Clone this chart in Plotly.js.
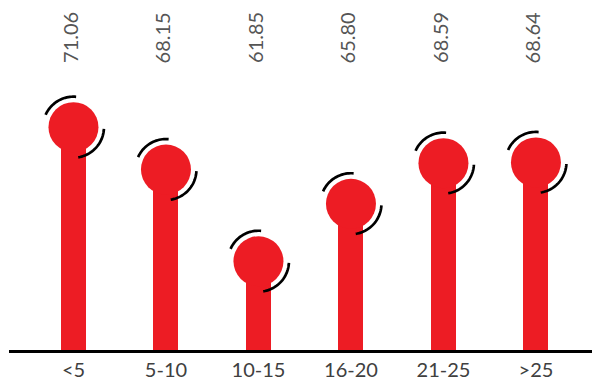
<!DOCTYPE html>
<html>
<head>
<meta charset="utf-8">
<script src="https://cdn.plot.ly/plotly-3.0.1.min.js"></script>
<style>
  html, body { margin: 0; padding: 0; background: #ffffff; }
  #chart { width: 592px; height: 386px; }
</style>
</head>
<body>
<div id="chart"></div>
<script>
// Age bands and their scores
const categories = ['<5', '5-10', '10-15', '16-20', '21-25', '>25'];
const values = [71.06, 68.15, 61.85, 65.80, 68.59, 68.64];
const valueLabels = ['71.06', '68.15', '61.85', '65.80', '68.59', '68.64'];

const RED = '#ED1C24';
const xIdx = categories.map((_, i) => i);

// Stems of the lollipops (bars clipped at the axis floor)
const stems = {
  type: 'bar',
  x: xIdx,
  y: values,
  width: 0.27,
  marker: { color: RED, line: { width: 0 } },
  hoverinfo: 'skip'
};

// Round heads on top of each stem
const heads = {
  type: 'scatter',
  mode: 'markers',
  x: xIdx,
  y: values,
  marker: { size: 50, color: RED, line: { width: 0 } },
  hoverinfo: 'skip'
};

// Build an arc as a polyline in pixel offsets (y up), degrees
function arcPath(r, a0, a1) {
  const steps = 24;
  let d = '';
  for (let k = 0; k <= steps; k++) {
    const a = (a0 + (a1 - a0) * k / steps) * Math.PI / 180;
    const px = (r * Math.cos(a)).toFixed(2);
    const py = (r * Math.sin(a)).toFixed(2);
    d += (k === 0 ? 'M' : 'L') + px + ',' + py + ' ';
  }
  return d.trim();
}

const shapes = [];
xIdx.forEach((xi, i) => {
  [[85, 156], [-81, -3]].forEach(([a0, a1]) => {
    shapes.push({
      type: 'path',
      xref: 'x', yref: 'y',
      xsizemode: 'pixel', ysizemode: 'pixel',
      xanchor: xi, yanchor: values[i],
      path: arcPath(30.5, a0, a1),
      line: { color: '#000000', width: 2.7 },
      layer: 'above'
    });
  });
});

// Vertical value labels along the top
const annotations = xIdx.map((xi, i) => ({
  x: xi,
  xref: 'x',
  y: (350 - 37.5) / 350,
  yref: 'paper',
  text: valueLabels[i],
  textangle: -90,
  showarrow: false,
  xanchor: 'center',
  yanchor: 'middle',
  xshift: -3,
  font: { family: 'Lato, sans-serif', size: 20, color: '#555555' }
}));

const layout = {
  width: 592,
  height: 386,
  margin: { l: 9, r: 0, t: 0, b: 36 },
  paper_bgcolor: '#ffffff',
  plot_bgcolor: '#ffffff',
  showlegend: false,
  bargap: 0,
  xaxis: {
    range: [-0.697, 5.606],
    tickmode: 'array',
    tickvals: xIdx,
    ticktext: categories,
    showgrid: false,
    zeroline: false,
    showline: true,
    linecolor: '#000000',
    linewidth: 2.5,
    ticks: '',
    tickfont: { family: 'Lato, sans-serif', size: 20, color: '#404040' },
    fixedrange: true
  },
  yaxis: {
    range: [55.75, 79.8],
    visible: false,
    showgrid: false,
    zeroline: false,
    fixedrange: true
  },
  shapes: shapes,
  annotations: annotations
};

Plotly.newPlot('chart', [stems, heads], layout, { displayModeBar: false, staticPlot: true });
</script>
</body>
</html>
